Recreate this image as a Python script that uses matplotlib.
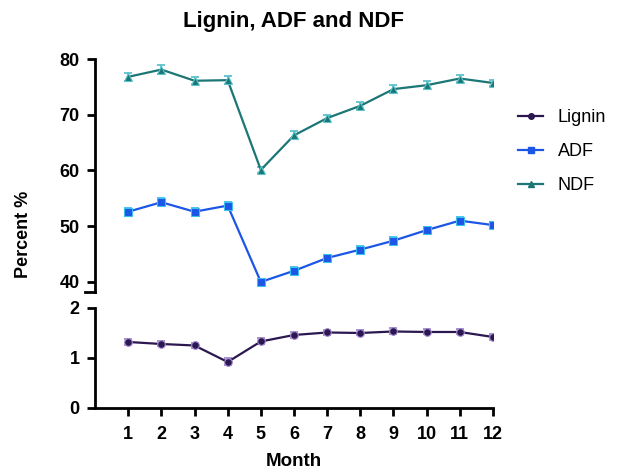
import matplotlib.pyplot as plt
import matplotlib.lines as mlines

plt.rcParams['font.family'] = ['Liberation Sans', 'DejaVu Sans']

# data
months = [1, 2, 3, 4, 5, 6, 7, 8, 9, 10, 11, 12]
ndf = [76.8, 78.1, 76.1, 76.2, 60.1, 66.3, 69.4, 71.6, 74.6, 75.3, 76.5, 75.7]
ndf_err = [0.7, 0.8, 0.6, 0.7, 0.5, 0.7, 0.6, 0.6, 0.7, 0.7, 0.7, 0.6]
adf = [52.6, 54.3, 52.6, 53.7, 40.0, 42.0, 44.3, 45.8, 47.4, 49.3, 51.0, 50.2]
adf_err = [0.7, 0.7, 0.6, 0.7, 0.6, 0.6, 0.6, 0.6, 0.7, 0.6, 0.7, 0.6]
lignin = [1.32, 1.28, 1.25, 0.92, 1.33, 1.46, 1.51, 1.50, 1.53, 1.52, 1.52, 1.42]
lignin_err = [0.06, 0.05, 0.05, 0.07, 0.06, 0.06, 0.05, 0.05, 0.06, 0.05, 0.05, 0.06]

c_lig, e_lig = '#2b1850', '#a58ad0'
c_adf, e_adf = '#1c56e6', '#3cc0ee'
c_ndf, e_ndf = '#1d7676', '#5cc3cb'

fig = plt.figure(figsize=(6.17, 4.72), dpi=100)
ax1 = fig.add_axes([0.154, 0.3814, 0.645, 0.4936])
ax2 = fig.add_axes([0.154, 0.1356, 0.645, 0.2119])

def draw(ax, y, err, c, ec, m, ms):
    ax.errorbar(months, y, yerr=err, fmt='none', ecolor=ec, elinewidth=1.3, capsize=3, capthick=1.3, zorder=2)
    ax.plot(months, y, color=c, lw=1.6, marker=m, ms=ms, mec=ec, mew=0.8, zorder=3)

draw(ax1, ndf, ndf_err, c_ndf, e_ndf, '^', 6)
draw(ax1, adf, adf_err, c_adf, e_adf, 's', 5.5)
draw(ax2, lignin, lignin_err, c_lig, e_lig, 'o', 5.5)

for ax in (ax1, ax2):
    for s in ('top', 'right'):
        ax.spines[s].set_visible(False)
    ax.spines['left'].set_linewidth(2)
    ax.spines['bottom'].set_linewidth(2)
    ax.tick_params(width=2, length=6, labelsize=13, pad=5)
    ax.set_xlim(0, 12)

ax1.set_ylim(38.2, 80)
ax1.set_yticks([40, 50, 60, 70, 80])
ax1.spines['bottom'].set_visible(False)
ax1.set_xticks([])
# break cap at the bottom of the upper axis
ax1.plot([-0.3, 0], [38.2, 38.2], color='black', lw=2, clip_on=False)

ax2.set_ylim(0, 2)
ax2.set_yticks([0, 1, 2])
ax2.set_xticks(months)
ax2.set_xticklabels([str(m) for m in months])
ax2.tick_params(axis='x', pad=7)

for ax in (ax1, ax2):
    for lab in ax.get_yticklabels() + ax.get_xticklabels():
        lab.set_fontweight('bold')

fig.text(0.475, 0.955, 'Lignin, ADF and NDF', ha='center', va='center', fontsize=16, fontweight='bold')
fig.text(0.038, 0.504, 'Percent %', rotation=90, va='center', ha='center', fontsize=13, fontweight='bold')
fig.text(0.476, 0.022, 'Month', ha='center', va='center', fontsize=13.5, fontweight='bold')

handles = [
    mlines.Line2D([], [], color=c_lig, marker='o', ms=4, lw=1.6, label='Lignin'),
    mlines.Line2D([], [], color=c_adf, marker='s', ms=4, lw=1.6, label='ADF'),
    mlines.Line2D([], [], color=c_ndf, marker='^', ms=4, lw=1.6, label='NDF'),
]
fig.legend(handles=handles, loc='upper left', bbox_to_anchor=(0.8395, 0.769), frameon=False,
           fontsize=13, handlelength=1.4, handletextpad=0.8, labelspacing=0.95,
           borderpad=0, borderaxespad=0)

fig.savefig('out.png', dpi=100)
